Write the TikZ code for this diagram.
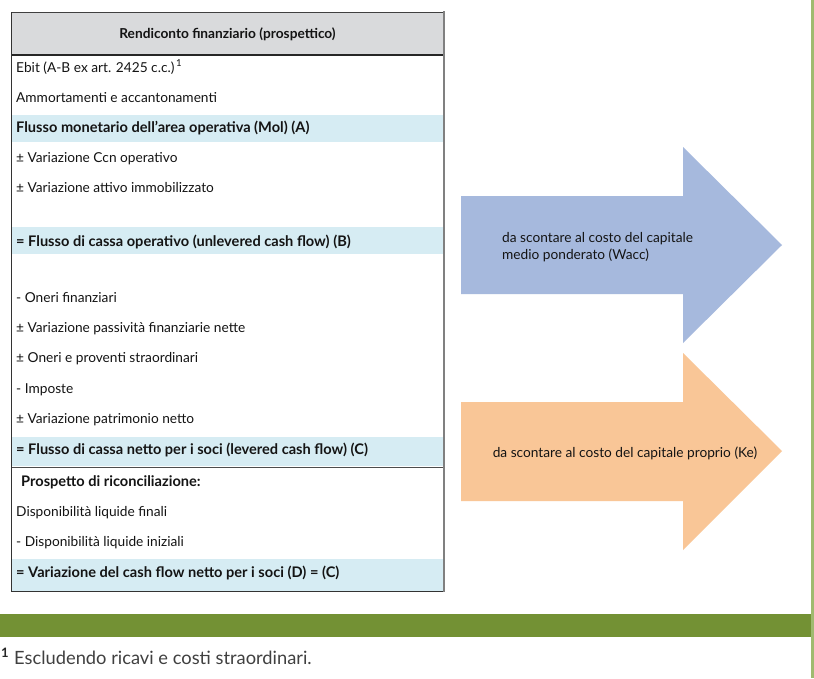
\documentclass[tikz,border=0pt]{standalone}
\usepackage{fontspec}
\setmainfont{Lato}
\definecolor{hdrgray}{RGB}{217,218,220}
\definecolor{bandblue}{RGB}{214,236,243}
\definecolor{arrowblue}{RGB}{166,185,221}
\definecolor{arroworange}{RGB}{249,198,151}
\definecolor{greenband}{RGB}{115,145,52}
\definecolor{greenline}{RGB}{160,186,112}
\definecolor{bordergray}{RGB}{128,128,128}
\definecolor{txt}{RGB}{20,20,20}
\begin{document}
\begin{tikzpicture}[x=1pt,y=-1pt,
  rowtext/.style={anchor=base west, inner sep=0pt, text=txt, font=\fontsize{13.7}{16}\selectfont},
  rowbold/.style={rowtext, font=\fontsize{14.6}{16}\selectfont\bfseries},
  band/.style={fill=bandblue, draw=none},
  arrowtext/.style={inner sep=0pt, text=txt, font=\fontsize{13.7}{17.5}\selectfont, align=left},
  footnote/.style={anchor=base west, inner sep=0pt, text=black!75, font=\fontsize{18.3}{20}\selectfont}]
\useasboundingbox (0,0) rectangle (814,678);
\fill[white] (0,0) rectangle (814,678);
% table backgrounds
\fill[hdrgray] (11,12) rectangle (444,55);
\fill[band] (11,115) rectangle (444,142);
\fill[band] (11,227) rectangle (444,254);
\fill[band] (11,437) rectangle (444,466);
\fill[band] (11,559) rectangle (444,591);
% table lines
\draw[black!75, line width=1pt] (11,12) -- (444,12);
\draw[black!85, line width=2pt] (11,55) -- (444,55);
\draw[black!70, line width=1pt] (11,467) -- (444,467);
\draw[black!80, line width=1pt] (11,12) -- (11,591) -- (444,591);
\draw[bordergray, line width=2pt] (444,11) -- (444,592);
% header
\node[rowbold, anchor=base, font=\fontsize{13.7}{16}\selectfont\bfseries] (hdr) at (227.5,38) {Rendiconto finanziario (prospettico)};
% rows
\node[rowtext] (r1) at (16,72) {Ebit (A-B ex art. 2425 c.c.)\textsuperscript{\,1}};
\node[rowtext] (r2) at (16,102) {Ammortamenti e accantonamenti};
\node[rowbold] (r3) at (16,132) {Flusso monetario dell’area operativa (Mol) (A)};
\node[rowtext] (r4) at (16,162) {± Variazione Ccn operativo};
\node[rowtext] (r5) at (16,192) {± Variazione attivo immobilizzato};
\node[rowbold] (r6) at (16,246) {= Flusso di cassa operativo (unlevered cash flow) (B)};
\node[rowtext] (r7) at (16,302) {- Oneri finanziari};
\node[rowtext] (r8) at (16,332) {± Variazione passività finanziarie nette};
\node[rowtext] (r9) at (16,362) {± Oneri e proventi straordinari};
\node[rowtext] (r10) at (16,393) {- Imposte};
\node[rowtext] (r11) at (16,423) {± Variazione patrimonio netto};
\node[rowbold] (r12) at (16,454) {= Flusso di cassa netto per i soci (levered cash flow) (C)};
\node[rowbold] (r13) at (21,486) {Prospetto di riconciliazione:};
\node[rowtext] (r14) at (16,516) {Disponibilità liquide finali};
\node[rowtext] (r15) at (16,546) {- Disponibilità liquide iniziali};
\node[rowbold] (r16) at (16,577) {= Variazione del cash flow netto per i soci (D) = (C)};
% arrows
\fill[arrowblue] (461,196) -- (683,196) -- (683,147) -- (782,245) -- (683,343) -- (683,294) -- (461,294) -- cycle;
\node[arrowtext, anchor=west] (wacc) at (502,247) {da scontare al costo del capitale\\medio ponderato (Wacc)};
\fill[arroworange] (461,402) -- (683,402) -- (683,353) -- (782,451) -- (683,550) -- (683,501) -- (461,501) -- cycle;
\node[arrowtext] (ke) at (625,453) {da scontare al costo del capitale proprio (Ke)};
% green band and right line
\fill[greenband] (0,614) rectangle (811,637);
\fill[greenline] (811,0) rectangle (813.5,678);
% footnote
\node[anchor=base west, inner sep=0pt, text=black!85, font=\fontsize{13}{15}\selectfont\bfseries] (fnmark) at (1,657) {1};
\node[footnote] (fn) at (14,664) {Escludendo ricavi e costi straordinari.};
\end{tikzpicture}
\end{document}
